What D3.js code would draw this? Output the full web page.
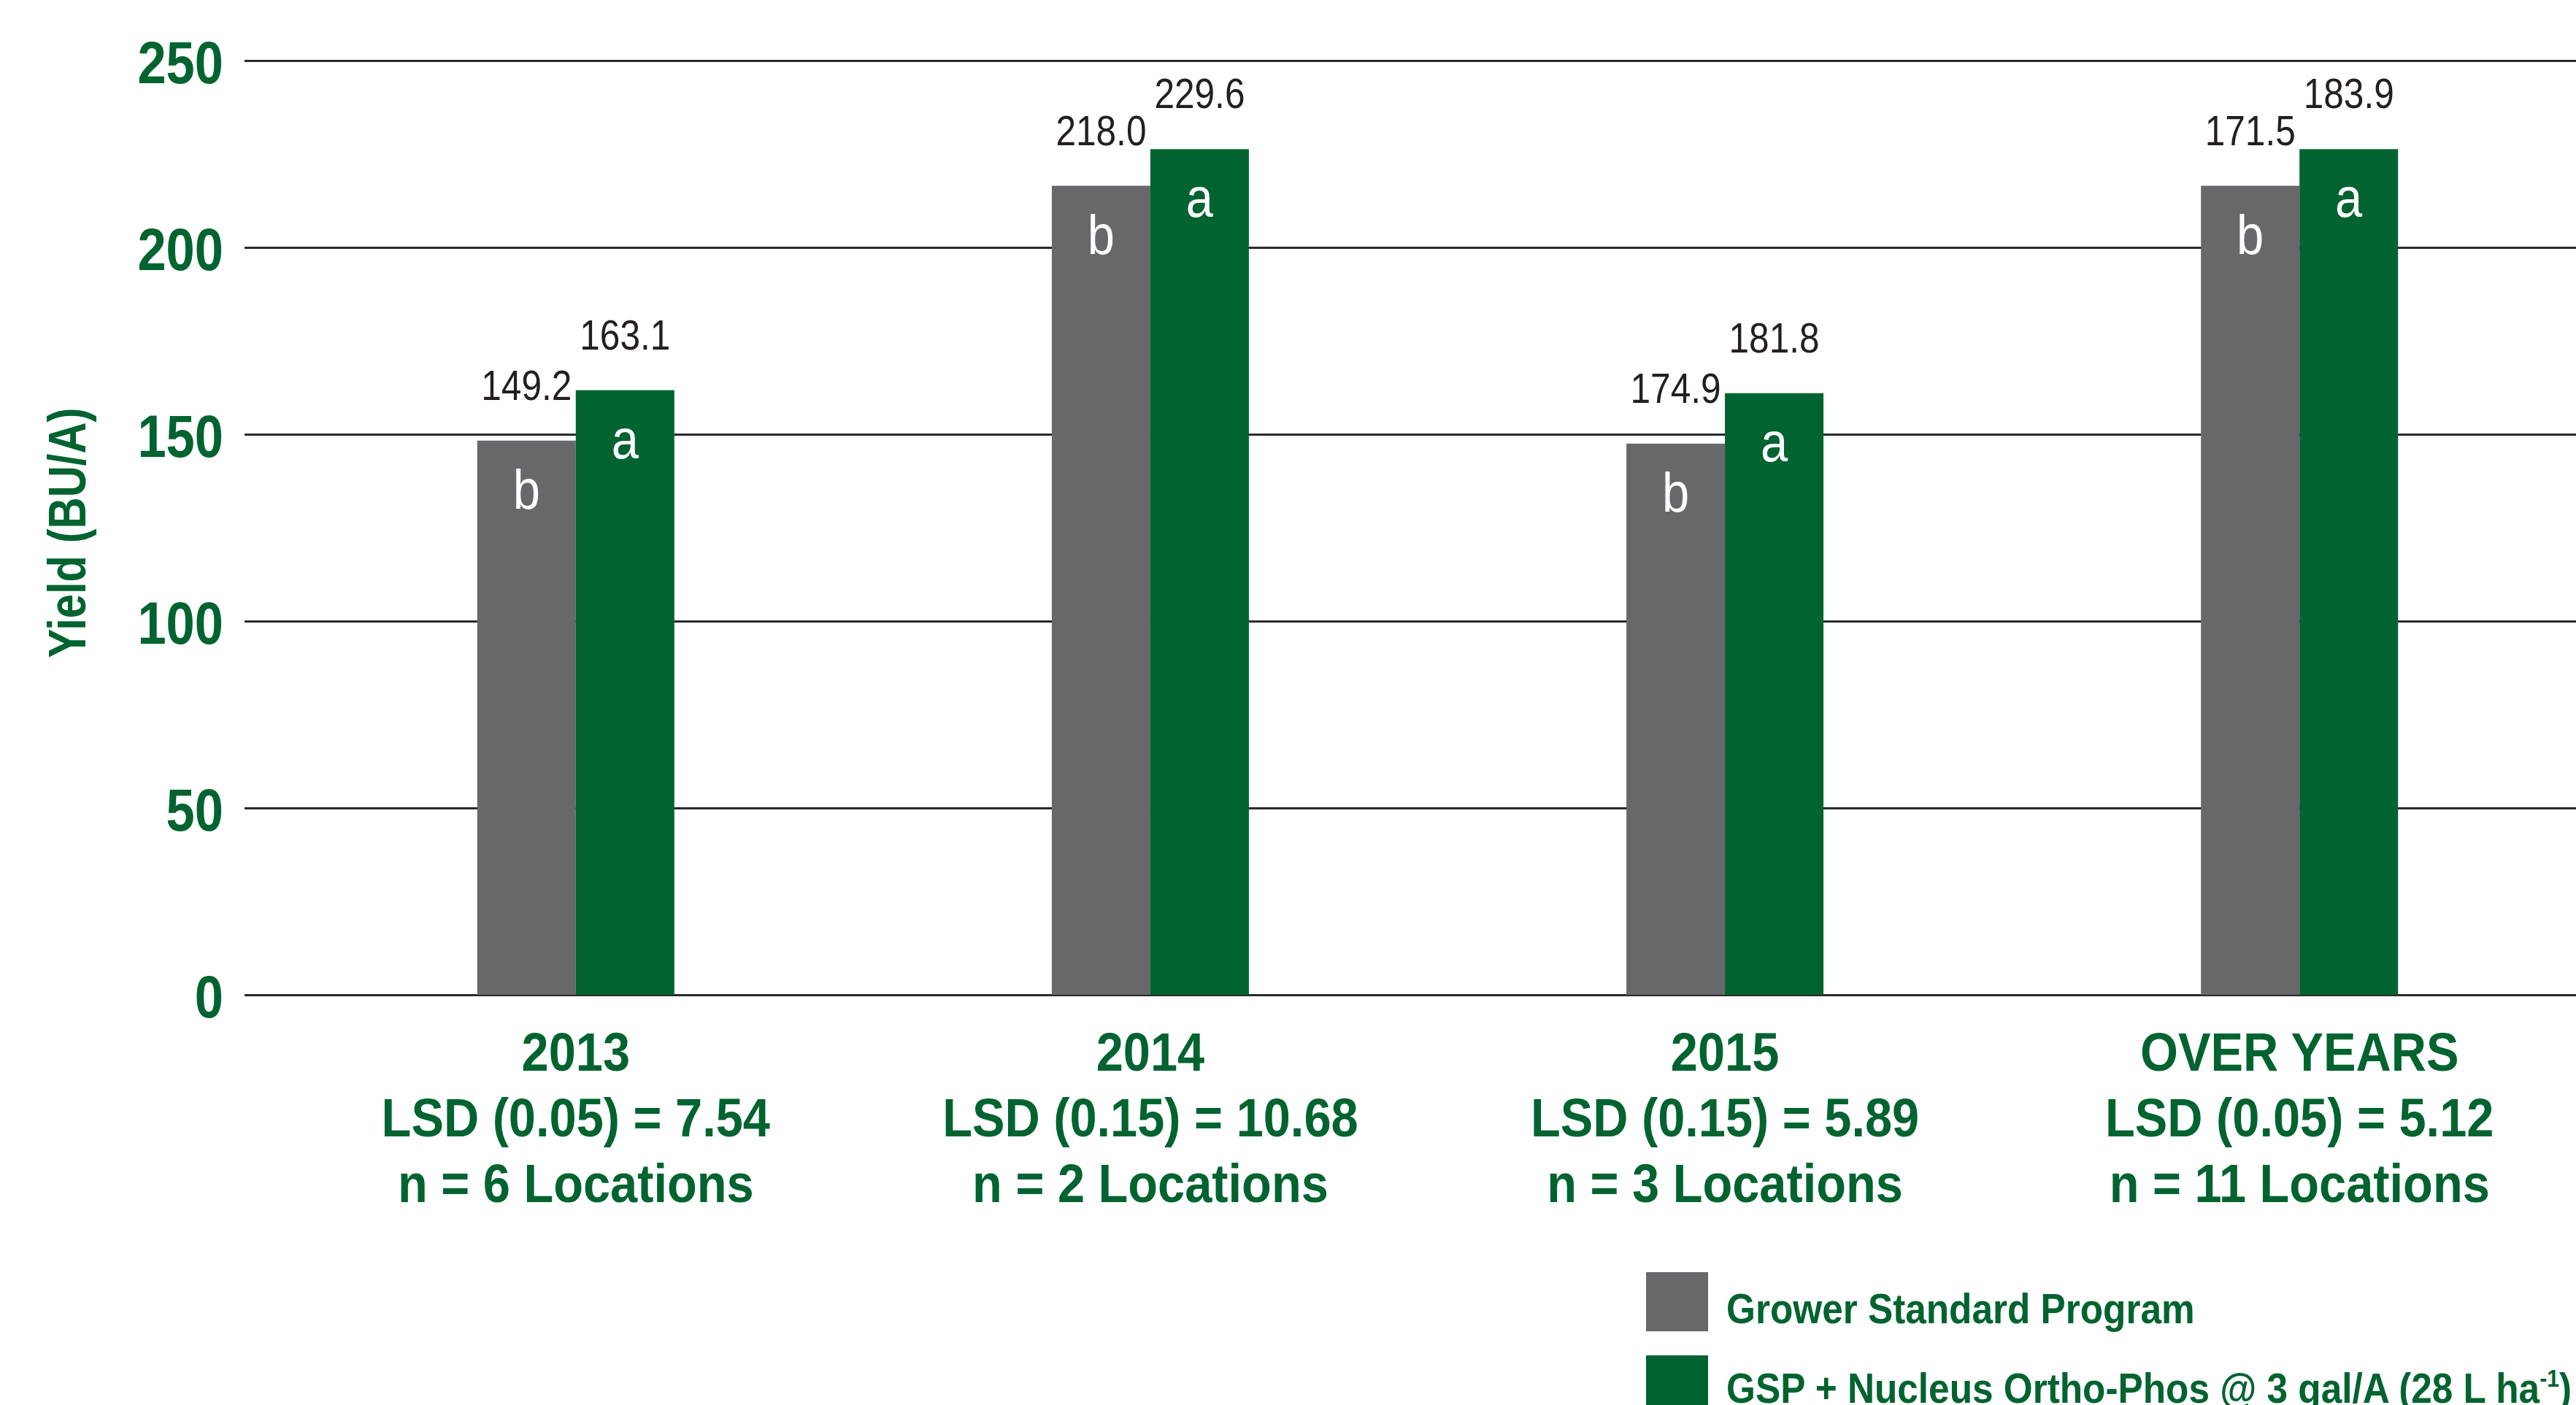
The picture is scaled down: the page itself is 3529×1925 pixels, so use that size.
<!DOCTYPE html>
<html>
<head>
<meta charset="utf-8">
<script src="https://cdn.jsdelivr.net/npm/d3@7"></script>
<style>
  body { margin: 0; background: #fff; }
  svg { display: block; }
</style>
</head>
<body>
<script>
// yield data, bar heights as drawn and the printed labels
var categories = ["2013", "2014", "2015", "OVER YEARS"];
var lsdLabels = ["LSD (0.05) = 7.54", "LSD (0.15) = 10.68", "LSD (0.15) = 5.89", "LSD (0.05) = 5.12"];
var nLabels = ["n = 6 Locations", "n = 2 Locations", "n = 3 Locations", "n = 11 Locations"];
var series = ["Grower Standard Program", "GSP + Nucleus Ortho-Phos @ 3 gal/A (28 L ha"];
var growerValues = [148.3, 216.5, 147.5, 216.5];
var gspValues = [161.8, 226.3, 161.0, 226.3];
var growerLabels = ["149.2", "218.0", "174.9", "171.5"];
var gspLabels = ["163.1", "229.6", "181.8", "183.9"];
var growerLetters = ["b", "b", "b", "b"];
var gspLetters = ["a", "a", "a", "a"];
var yTicks = [0, 50, 100, 150, 200, 250];

var width = 3529, height = 1925;
var green = "#006330", grey = "#68686a";
var font = "'Liberation Sans', Arial, sans-serif";

var svg = d3.select("body").append("svg")
    .attr("width", width)
    .attr("height", height);

svg.append("rect").attr("width", width).attr("height", height).attr("fill", "#fff");

var x0 = d3.scaleBand().domain(categories).range([335, 3604]).paddingInner(0.657).paddingOuter(0.405);
var x1 = d3.scaleBand().domain([0, 1]).range([0, x0.bandwidth()]);
var y = d3.scaleLinear().domain([0, 250]).range([1363, 83]);
var color = d3.scaleOrdinal().domain([0, 1]).range([grey, green]);

// condensed text helper
function ctext(sel, tx, ty, sx) {
  return sel.attr("transform", "translate(" + tx + "," + ty + ") scale(" + sx + ",1)");
}

// y axis + gridlines
var yAxis = d3.axisLeft(y).tickValues(yTicks).tickSize(-(width - 335)).tickPadding(29);
var yAxisGroup = svg.append("g").attr("transform", "translate(335,0)").call(yAxis);
yAxisGroup.select(".domain").remove();
yAxisGroup.selectAll(".tick line").attr("stroke", "#2b2a2b").attr("stroke-width", 3);
yAxisGroup.selectAll(".tick text")
    .attr("x", 0).attr("dy", null)
    .attr("transform", "translate(-29,30) scale(0.87,1)")
    .attr("fill", green)
    .style("font-family", font)
    .style("font-weight", "bold")
    .style("font-size", "81px");

// y title
svg.append("text")
    .attr("transform", "translate(117,730) rotate(-90) scale(0.83,1)")
    .attr("text-anchor", "middle")
    .attr("fill", green)
    .style("font-family", font)
    .style("font-weight", "bold")
    .style("font-size", "72px")
    .text("Yield (BU/A)");

// bars
var rows = categories.map(function(c, i) {
  return [
    {cat: c, s: 0, v: growerValues[i], label: growerLabels[i], letter: growerLetters[i]},
    {cat: c, s: 1, v: gspValues[i], label: gspLabels[i], letter: gspLetters[i]}
  ];
});

var groups = svg.selectAll(".grp")
    .data(rows)
    .enter().append("g")
    .attr("class", "grp")
    .attr("transform", function(d) { return "translate(" + x0(d[0].cat) + ",0)"; });

groups.selectAll("rect")
    .data(function(d) { return d; })
    .enter().append("rect")
    .attr("x", function(d) { return x1(d.s); })
    .attr("y", function(d) { return y(d.v); })
    .attr("width", x1.bandwidth())
    .attr("height", function(d) { return y(0) - y(d.v); })
    .attr("fill", function(d) { return color(d.s); });

groups.selectAll(".val")
    .data(function(d) { return d; })
    .enter().append("text")
    .attr("class", "val")
    .attr("text-anchor", "middle")
    .attr("fill", "#231f20")
    .style("font-family", font)
    .style("font-size", "57px")
    .each(function(d) {
      ctext(d3.select(this), x1(d.s) + x1.bandwidth() / 2, y(d.v) - 56, 0.87);
    })
    .text(function(d) { return d.label; });

groups.selectAll(".letter")
    .data(function(d) { return d; })
    .enter().append("text")
    .attr("class", "letter")
    .attr("text-anchor", "middle")
    .attr("fill", "#fff")
    .style("font-family", font)
    .style("font-size", "76px")
    .each(function(d) {
      ctext(d3.select(this), x1(d.s) + x1.bandwidth() / 2, y(d.v) + 93, 0.88);
    })
    .text(function(d) { return d.letter; });

// category labels
var catLines = categories.map(function(c, i) { return [c, lsdLabels[i], nLabels[i]]; });
var xLab = svg.selectAll(".xlab")
    .data(catLines)
    .enter().append("g")
    .attr("class", "xlab")
    .attr("transform", function(d) { return "translate(" + (x0(d[0]) + x0.bandwidth() / 2) + ",0)"; });

xLab.selectAll("text")
    .data(function(d) { return d; })
    .enter().append("text")
    .attr("text-anchor", "middle")
    .attr("fill", green)
    .style("font-family", font)
    .style("font-weight", "bold")
    .style("font-size", "75px")
    .each(function(d, i) { ctext(d3.select(this), 0, 1467 + i * 90, 0.89); })
    .text(function(d) { return d; });

// legend
var legend = svg.selectAll(".legend")
    .data(series)
    .enter().append("g")
    .attr("class", "legend")
    .attr("transform", function(d, i) { return "translate(2255," + (1743 + i * 114) + ")"; });

legend.append("rect")
    .attr("width", 85)
    .attr("height", 81)
    .attr("fill", function(d, i) { return color(i); });

var legText = legend.append("text")
    .attr("fill", green)
    .style("font-family", font)
    .style("font-weight", "bold")
    .style("font-size", "58px")
    .attr("transform", function(d, i) { return "translate(110," + (70 - i * 5) + ") scale(0.885,1)"; })
    .text(function(d) { return d; });

legText.filter(function(d, i) { return i === 1; })
    .append("tspan")
    .attr("dy", -22)
    .style("font-size", "34px")
    .text("-1");
legText.filter(function(d, i) { return i === 1; })
    .append("tspan")
    .attr("dy", 22)
    .text(")");
</script>
</body>
</html>
